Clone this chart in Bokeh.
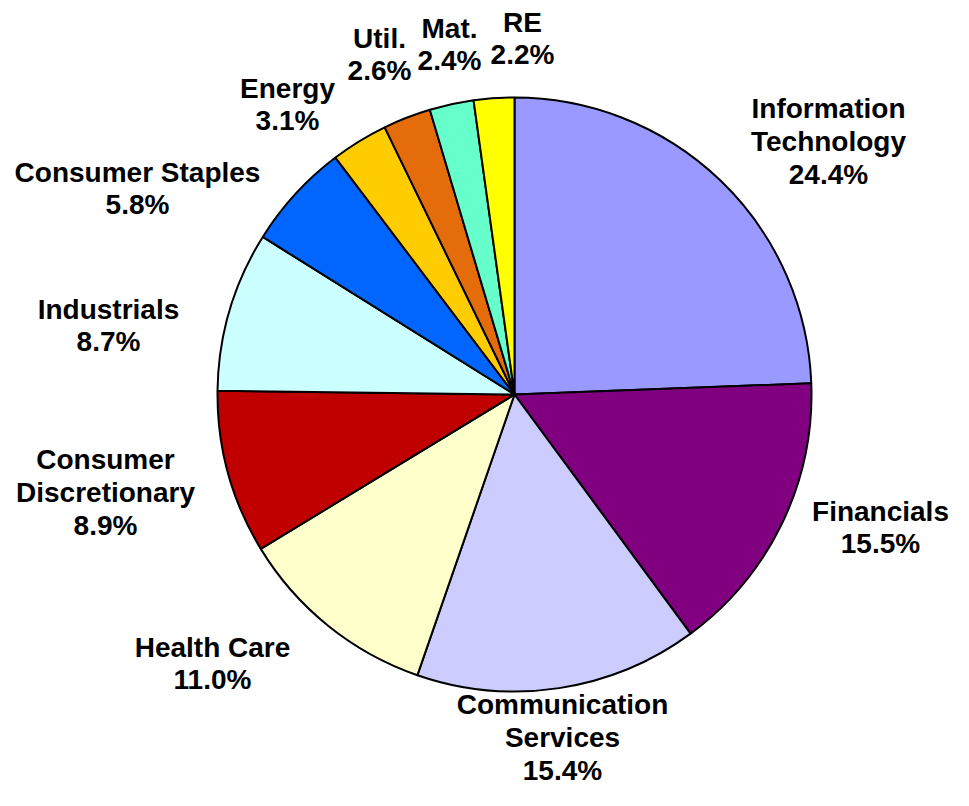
import math
from bokeh.plotting import figure
from bokeh.models import Range1d, ColumnDataSource
from bokeh.core.properties import value
from bokeh.embed import file_html
from bokeh.resources import INLINE

# Data
sectors = ["Information\nTechnology", "Financials", "Communication\nServices", "Health Care",
           "Consumer\nDiscretionary", "Industrials", "Consumer Staples", "Energy",
           "Util.", "Mat.", "RE"]
shares = [24.4, 15.5, 15.4, 11.0, 8.9, 8.7, 5.8, 3.1, 2.6, 2.4, 2.2]
colors = ["#9999FF", "#800080", "#CCCCFF", "#FFFFCC", "#C00000", "#CCFFFF",
          "#0066FF", "#FFCC00", "#E46C0A", "#66FFCC", "#FFFF00"]

# label anchor positions (picture pixels)
label_x = [828, 880, 562, 212, 105, 108, 137, 287, 379, 449, 522]
label_y = [141, 527, 737, 663, 492, 325, 188, 104, 54, 44, 38]

W, H = 953, 790
cx, cy, R = 514, 394, 297

p = figure(width=W, height=H, output_backend="svg", toolbar_location=None,
           x_range=Range1d(0, W), y_range=Range1d(-H, 0),
           x_axis_location=None, y_axis_location=None, min_border=0)
p.grid.visible = False
p.outline_line_color = None
p.background_fill_color = "white"
p.border_fill_color = "white"

total = sum(shares)
starts, ends = [], []
cum = 0.0
for s in shares:
    starts.append(math.pi / 2 - 2 * math.pi * cum / total)
    cum += s
    ends.append(math.pi / 2 - 2 * math.pi * cum / total)

src = ColumnDataSource(dict(start=starts, end=ends, color=colors,
                            x=[cx] * len(shares), y=[-cy] * len(shares)))
p.wedge(x="x", y="y", radius=R, start_angle="start", end_angle="end",
        direction="clock", fill_color="color", line_color="black", line_width=2,
        source=src)

texts = [f"{n}\n{s:.1f}%" for n, s in zip(sectors, shares)]
tsrc = ColumnDataSource(dict(x=label_x, y=[-v for v in label_y], text=texts))
p.text(x="x", y="y", text="text", source=tsrc, text_align="center",
       text_baseline="middle", text_font=value("Liberation Sans"),
       text_font_style="bold", text_font_size="28px", text_line_height=1.05,
       text_color="black")

open("out.html", "w").write(file_html(p, INLINE))
